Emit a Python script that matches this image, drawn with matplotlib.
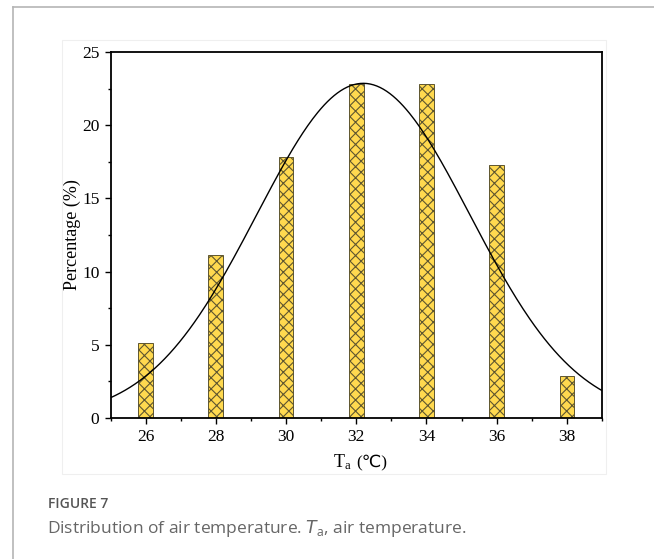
import numpy as np
import matplotlib.pyplot as plt
from matplotlib.patches import Rectangle
from matplotlib.lines import Line2D
from matplotlib.ticker import MultipleLocator

# bar data
temps = [26, 28, 30, 32, 34, 36, 38]
percent = [5.1, 11.1, 17.8, 22.8, 22.8, 17.3, 2.9]

# fitted normal curve parameters
fit_peak = 22.86
fit_mean = 32.2
fit_sd = 3.04

plt.rcParams['hatch.linewidth'] = 0.8
plt.rcParams['mathtext.fontset'] = 'custom'
plt.rcParams['mathtext.rm'] = 'Liberation Serif'

W, H = 654, 559
fig = plt.figure(figsize=(W / 100, H / 100), dpi=100)

# page frame
fig.add_artist(Line2D([12.7 / W, 12.7 / W], [0, 1 - 7 / H], color='#b5b5b5', lw=1.2))
fig.add_artist(Line2D([12.7 / W, 1], [1 - 7 / H, 1 - 7 / H], color='#b5b5b5', lw=1.2))
# faint image box
fig.add_artist(Rectangle((62 / W, 1 - 474 / H), (606 - 62) / W, (474 - 40) / H,
                         fill=False, ec='#efefef', lw=0.8))

ax = fig.add_axes([110.5 / W, 1 - 418 / H, (602 - 110.5) / W, (418 - 52) / H])

ax.bar(temps, percent, width=0.42, color='#ffd94f', edgecolor='#5e5630',
       hatch='xxx', linewidth=0.7, zorder=2)

xs = np.linspace(25, 39, 300)
ax.plot(xs, fit_peak * np.exp(-(xs - fit_mean) ** 2 / (2 * fit_sd ** 2)),
        color='black', lw=1.0, zorder=3)

ax.set_xlim(25, 39)
ax.set_ylim(0, 25)
ax.xaxis.set_major_locator(MultipleLocator(2))
ax.xaxis.set_minor_locator(MultipleLocator(1))
ax.yaxis.set_major_locator(MultipleLocator(5))
ax.yaxis.set_minor_locator(MultipleLocator(2.5))
ax.set_xticks(temps)

serif = ['Liberation Serif', 'DejaVu Sans']
ax.tick_params(which='both', direction='out', width=1.0, labelsize=12.5)
ax.tick_params(which='major', length=4.5)
ax.tick_params(which='minor', length=2.5)
for lab in ax.get_xticklabels() + ax.get_yticklabels():
    lab.set_family(serif)
for s in ax.spines.values():
    s.set_linewidth(1.3)

# x label in two pieces so the degree-Celsius sign can fall back to DejaVu
ax.text((352 - 110.5) / 491.5, (418 - 467) / 366, '$\\mathrm{T_a}$',
        transform=ax.transAxes, ha='right', va='baseline', fontsize=13)
ax.text((356 - 110.5) / 491.5, (418 - 467) / 366, '(\u2103)', family=serif,
        transform=ax.transAxes, ha='left', va='baseline', fontsize=12.5)
ax.set_ylabel('Percentage (%)', family=serif, fontsize=13, labelpad=1)

# caption
fig.text(48 / W, 1 - 508 / H, 'FIGURE 7', family='Open Sans', weight='semibold',
         fontsize=10, color='#555555', va='baseline')
fig.text(47 / W, 1 - 533 / H,
         'Distribution of air temperature. $\\mathit{T}_\\mathregular{a}$, air temperature.',
         family='Open Sans', fontsize=12.5, color='#666666', va='baseline',
         math_fontfamily='dejavusans')

fig.savefig('out.png', dpi=100)
